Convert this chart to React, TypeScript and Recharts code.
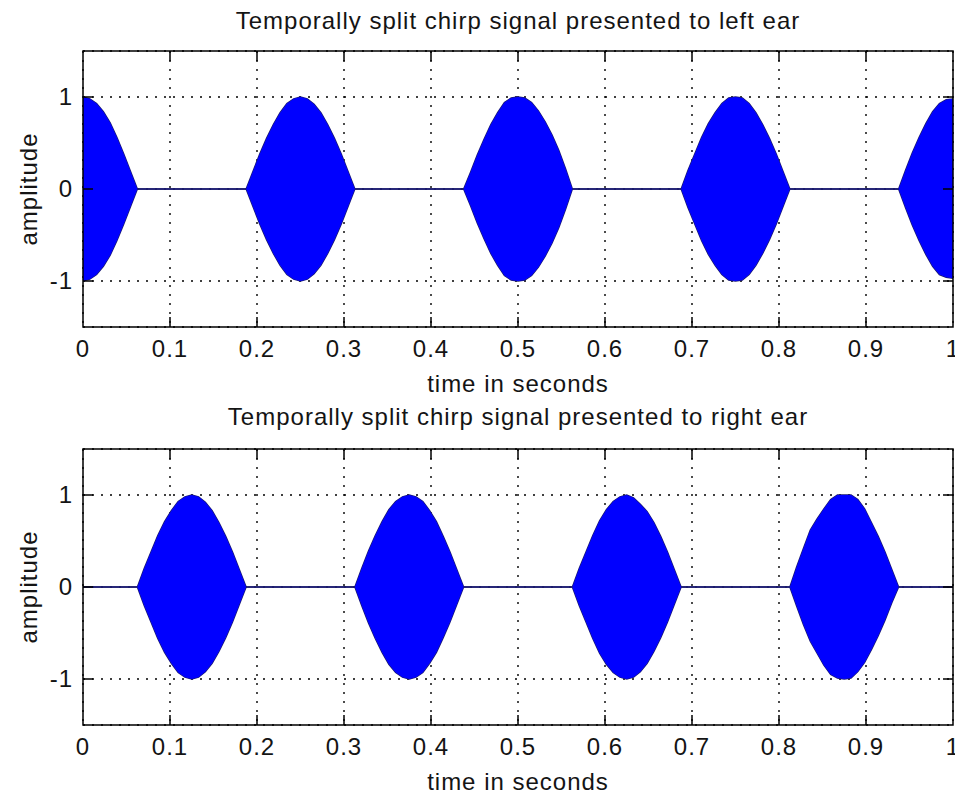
import { ComposedChart, Area, XAxis, YAxis, CartesianGrid, ReferenceArea } from 'recharts';

// one envelope sample every 1/128 s, 17 samples per 0.125 s burst
const SAMPLE_STEP = 1 / 128;

const xTicks = [0, 0.1, 0.2, 0.3, 0.4, 0.5, 0.6, 0.7, 0.8, 0.9, 1];
const xTickLabels = ['0', '0.1', '0.2', '0.3', '0.4', '0.5', '0.6', '0.7', '0.8', '0.9', '1'];
const yTicks = [-1, 0, 1];
const yTickLabels = ['-1', '0', '1'];

// left ear: bursts centred on 0, 0.25, 0.5, 0.75, 1
const leftEarStarts = [-0.0625, 0.1875, 0.4375, 0.6875, 0.9375];
const leftEarSilent: number[] = [];
const leftEarUpper = [
  [0, 0.2, 0.38, 0.56, 0.71, 0.83, 0.92, 0.98, 1, 0.98, 0.93, 0.84, 0.72, 0.56, 0.38, 0.19, 0],
  [0, 0.19, 0.38, 0.55, 0.7, 0.83, 0.93, 0.98, 1, 0.98, 0.92, 0.83, 0.7, 0.55, 0.38, 0.19, 0],
  [0, 0.18, 0.37, 0.54, 0.7, 0.83, 0.94, 0.99, 1, 0.99, 0.94, 0.85, 0.73, 0.59, 0.42, 0.22, 0],
  [0, 0.2, 0.38, 0.56, 0.71, 0.83, 0.93, 0.99, 1, 0.99, 0.93, 0.83, 0.7, 0.55, 0.38, 0.19, 0],
  [0, 0.2, 0.39, 0.56, 0.71, 0.84, 0.93, 0.97, 0.98, 0.97, 0.92, 0.83, 0.7, 0.55, 0.38, 0.19, 0],
];
const leftEarLower = [
  [0, -0.2, -0.38, -0.56, -0.71, -0.83, -0.92, -0.98, -1, -0.98, -0.93, -0.84, -0.72, -0.56, -0.38, -0.19, 0],
  [0, -0.19, -0.38, -0.55, -0.7, -0.83, -0.93, -0.98, -1, -0.98, -0.92, -0.83, -0.7, -0.55, -0.38, -0.19, 0],
  [0, -0.18, -0.37, -0.54, -0.7, -0.83, -0.94, -0.99, -1, -0.99, -0.94, -0.85, -0.73, -0.59, -0.42, -0.22, 0],
  [0, -0.2, -0.38, -0.56, -0.71, -0.83, -0.93, -0.99, -1, -0.99, -0.93, -0.83, -0.7, -0.55, -0.38, -0.19, 0],
  [0, -0.2, -0.39, -0.56, -0.71, -0.84, -0.93, -0.96, -0.97, -0.96, -0.92, -0.83, -0.7, -0.55, -0.38, -0.19, 0],
];

// right ear: bursts centred on 0.125, 0.375, 0.625, 0.875
const rightEarStarts = [0.0625, 0.3125, 0.5625, 0.8125];
const rightEarSilent = [0, 1];
const rightEarUpper = [
  [0, 0.2, 0.38, 0.56, 0.71, 0.83, 0.93, 0.98, 1, 0.98, 0.92, 0.83, 0.7, 0.55, 0.38, 0.19, 0],
  [0, 0.2, 0.39, 0.56, 0.71, 0.84, 0.93, 0.98, 1, 0.98, 0.93, 0.83, 0.71, 0.55, 0.38, 0.19, 0],
  [0, 0.2, 0.38, 0.56, 0.72, 0.84, 0.93, 0.98, 1, 0.97, 0.9, 0.82, 0.7, 0.55, 0.38, 0.19, 0],
  [0, 0.22, 0.42, 0.62, 0.74, 0.85, 0.95, 1, 1, 1, 0.95, 0.85, 0.7, 0.55, 0.38, 0.19, 0],
];
const rightEarLower = [
  [0, -0.2, -0.38, -0.56, -0.71, -0.83, -0.93, -0.98, -1, -0.98, -0.92, -0.83, -0.7, -0.55, -0.38, -0.19, 0],
  [0, -0.2, -0.39, -0.56, -0.71, -0.84, -0.93, -0.98, -1, -0.98, -0.93, -0.83, -0.71, -0.55, -0.38, -0.19, 0],
  [0, -0.2, -0.38, -0.56, -0.72, -0.84, -0.93, -0.98, -1, -0.98, -0.92, -0.83, -0.7, -0.55, -0.38, -0.19, 0],
  [0, -0.21, -0.41, -0.59, -0.72, -0.85, -0.95, -0.99, -1, -0.99, -0.92, -0.82, -0.68, -0.53, -0.36, -0.17, 0],
];

const FONT = "'Liberation Sans', Arial, sans-serif";
const TEXT = '#141414';
const PLOT_W = 870;
const PLOT_H = 276;

function buildRows(starts: number[], upper: number[][], lower: number[][], silent: number[]) {
  const rows: { t: number; band: number[] }[] = [];
  starts.forEach((start, b) => {
    upper[b].forEach((hi, i) => {
      rows.push({ t: start + i * SAMPLE_STEP, band: [lower[b][i], hi] });
    });
  });
  silent.forEach((t) => rows.push({ t, band: [0, 0] }));
  return rows.sort((a, b) => a.t - b.t);
}

const leftRows = buildRows(leftEarStarts, leftEarUpper, leftEarLower, leftEarSilent);
const rightRows = buildRows(rightEarStarts, rightEarUpper, rightEarLower, rightEarSilent);

const XTick = (props: any) => {
  const { x, y, payload } = props;
  const i = xTicks.indexOf(payload.value);
  const edge = payload.value === 0 || payload.value === 1;
  return (
    <g>
      {!edge && <line x1={x} y1={y} x2={x} y2={y - 10} stroke="#000" strokeWidth={1.5} />}
      {!edge && <line x1={x} y1={y - PLOT_H} x2={x} y2={y - PLOT_H + 10} stroke="#000" strokeWidth={1.5} />}
      <text x={x} y={y + 30} textAnchor="middle" fontSize={24} letterSpacing={1} fill={TEXT} fontFamily={FONT}>
        {xTickLabels[i]}
      </text>
    </g>
  );
};

const YTick = (props: any) => {
  const { x, y, payload } = props;
  const i = yTicks.indexOf(payload.value);
  return (
    <g>
      <line x1={x} y1={y} x2={x + 10} y2={y} stroke="#000" strokeWidth={1.5} />
      <line x1={x + PLOT_W} y1={y} x2={x + PLOT_W - 10} y2={y} stroke="#000" strokeWidth={1.5} />
      <text x={x - 10} y={y + 8} textAnchor="end" fontSize={24} letterSpacing={1} fill={TEXT} fontFamily={FONT}>
        {yTickLabels[i]}
      </text>
    </g>
  );
};

function SignalPanel({ rows }: { rows: { t: number; band: number[] }[] }) {
  return (
    <ComposedChart width={955} height={398} data={rows} margin={{ top: 51, right: 2, bottom: 0, left: 0 }}>
      <CartesianGrid stroke="#000" strokeDasharray="2 7" strokeWidth={1.4} />
      <XAxis
        dataKey="t"
        type="number"
        domain={[0, 1]}
        ticks={xTicks}
        allowDataOverflow
        height={71}
        tickSize={0}
        tickMargin={0}
        axisLine={false}
        tickLine={false}
        interval={0}
        tick={XTick}
      />
      <YAxis
        type="number"
        domain={[-1.5, 1.5]}
        ticks={yTicks}
        allowDataOverflow
        width={83}
        tickSize={0}
        tickMargin={0}
        axisLine={false}
        tickLine={false}
        interval={0}
        tick={YTick}
      />
      <Area dataKey="band" type="linear" stroke="#1a1a70" strokeWidth={1.4} fill="none" isAnimationActive={false} />
      <Area dataKey="band" type="linear" stroke="none" fill="#0000ff" fillOpacity={1} isAnimationActive={false} />
      <ReferenceArea x1={0} x2={1} y1={-1.5} y2={1.5} fill="none" fillOpacity={0} stroke="#000" strokeWidth={1.5} />
    </ComposedChart>
  );
}

export default function App() {
  return (
    <div style={{ position: 'absolute', left: 0, top: 0, width: 955, height: 796, background: '#fff' }}>
      <SignalPanel rows={leftRows} />
      <SignalPanel rows={rightRows} />
      <svg width={955} height={796} style={{ position: 'absolute', left: 0, top: 0, pointerEvents: 'none' }}>
        <g fontFamily={FONT} fontSize={24} letterSpacing={1} fill={TEXT} textAnchor="middle">
          <text x={518} y={29}>Temporally split chirp signal presented to left ear</text>
          <text x={518} y={392}>time in seconds</text>
          <text x={37} y={189} transform="rotate(-90 37 189)">amplitude</text>
          <text x={518} y={425}>Temporally split chirp signal presented to right ear</text>
          <text x={518} y={790}>time in seconds</text>
          <text x={37} y={587} transform="rotate(-90 37 587)">amplitude</text>
        </g>
      </svg>
    </div>
  );
}
